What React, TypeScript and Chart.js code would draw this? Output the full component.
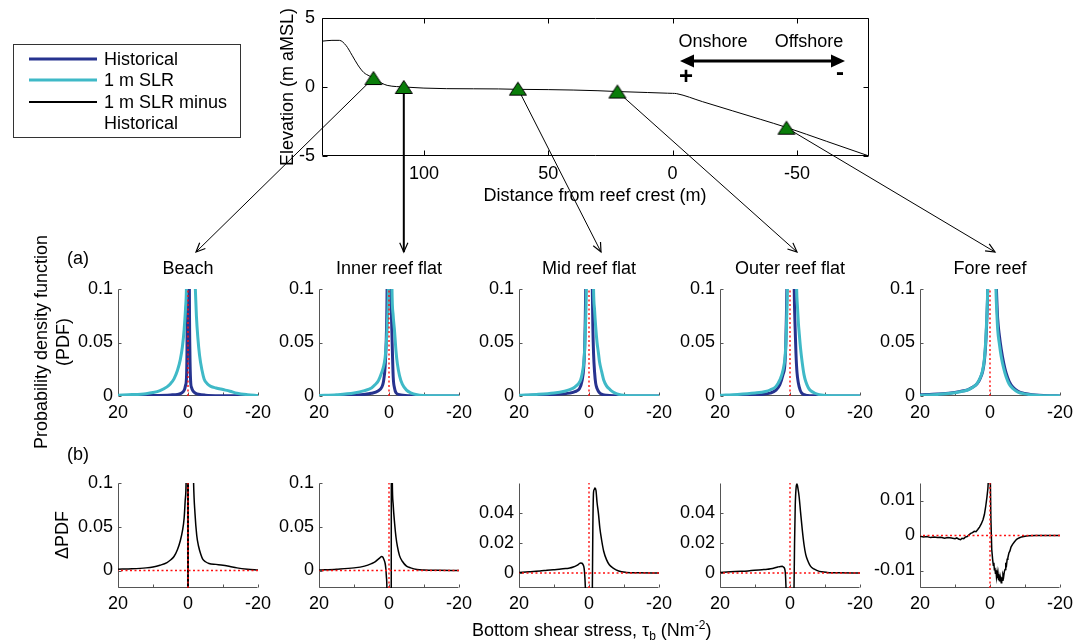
import React, { useEffect, useRef } from 'react';
import { Chart, registerables } from 'chart.js';
Chart.register(...registerables);

const W = 1088;
const H = 642;
const FONT = "'Liberation Sans', Arial, Helvetica, sans-serif";
const BLUE = '#26338f';
const CYAN = '#3fb9c7';
const RED = '#ff1010';
const AXIS = '#555555';
const GREEN = '#0a7d0a';

// ---------- Reef profile (top) ----------
const profileDist = [141, 137, 134, 131.3, 128.9, 126.6, 124.2, 121.9, 119.5, 117.2, 114.8, 111, 108, 100, 91, 80, 70, 62, 50, 40, 30, 22, 10, 2, 0, -1.6, -12, -24, -35.5, -45.8, -62, -79];
const profileElev = [3.32, 3.38, 3.38, 3.0, 2.3, 1.6, 1.05, 0.8, 0.6, 0.3, 0.12, 0.03, 0.0, -0.08, -0.12, -0.13, -0.14, -0.17, -0.19, -0.22, -0.27, -0.33, -0.4, -0.45, -0.46, -0.48, -1.06, -1.72, -2.35, -2.93, -3.94, -5.0];
const siteDist = [120.3, 108.1, 62.2, 22.2, -45.8];
const siteElev = [0.65, 0.0, -0.12, -0.33, -2.95];
const profileXTicks = [100, 50, 0, -50];
const profileYTicks = [-5, 0, 5];

// ---------- PDF panels (a) ----------
const panelTitles = ['Beach', 'Inner reef flat', 'Mid reef flat', 'Outer reef flat', 'Fore reef'];
const pdfXLabels = [20, 0, -20];
const pdfXMarks = [20, 10, 0, -10, -20];
const pdfYTicks = [0, 0.05, 0.1];

const beachSlrX = [20, 16, 12, 10, 8, 6, 5, 4, 3, 2.2, 1.6, 1.1, 0.7, 0.45, 0.2, -0.5, -1.5, -1.9, -2.1, -2.4, -2.8, -3.3, -4.0, -4.6, -5.5, -6.5, -8, -10, -12, -14, -17, -20];
const beachSlrY = [0.0008, 0.0013, 0.0022, 0.0032, 0.005, 0.0085, 0.0115, 0.016, 0.024, 0.034, 0.046, 0.062, 0.082, 0.1, 0.16, 0.3, 0.16, 0.115, 0.1, 0.075, 0.055, 0.038, 0.024, 0.016, 0.0115, 0.009, 0.0075, 0.006, 0.0045, 0.0026, 0.0012, 0.0004];
const beachHistX = [20, 10, 5, 3, 2, 1.4, 1.0, 0.7, 0.45, 0.3, 0.2, 0, -0.2, -0.4, -0.55, -0.75, -1.0, -1.6, -2.2, -3, -5, -10, -20];
const beachHistY = [0.0002, 0.0005, 0.001, 0.0015, 0.0025, 0.004, 0.006, 0.01, 0.016, 0.04, 0.1, 0.5, 0.4, 0.1, 0.04, 0.014, 0.008, 0.004, 0.0025, 0.0016, 0.0008, 0.0003, 0.0001];

const innerSlrX = [20, 15, 10, 7, 5, 4, 3, 2.2, 1.6, 1.1, 0.75, 0.5, 0.2, -0.3, -0.85, -1.2, -1.6, -2.0, -2.4, -3.0, -3.8, -5, -6.2, -8, -10, -14, -20];
const innerSlrY = [0.0005, 0.0012, 0.0028, 0.005, 0.0075, 0.0105, 0.0145, 0.021, 0.027, 0.036, 0.05, 0.066, 0.1, 0.3, 0.1, 0.075, 0.06, 0.042, 0.03, 0.019, 0.011, 0.0055, 0.003, 0.0012, 0.0005, 0.0002, 0.0001];
const innerHistX = [20, 10, 5, 3, 2.1, 1.6, 1.1, 0.76, 0.55, 0.3, 0, -0.3, -0.5, -0.7, -0.9, -1.2, -1.6, -2.0, -3.0, -4.0, -6, -10, -20];
const innerHistY = [0.0002, 0.0008, 0.0025, 0.005, 0.008, 0.013, 0.028, 0.056, 0.1, 0.3, 0.5, 0.3, 0.1, 0.075, 0.05, 0.018, 0.007, 0.003, 0.0012, 0.0006, 0.0003, 0.0001, 0];

const midSlrX = [20, 15, 10, 7, 5.5, 4, 3, 2.4, 2, 1.5, 1.2, 0.95, 0.76, 0.3, -0.6, -1.3, -1.6, -1.9, -2.3, -2.7, -3.0, -3.6, -4.2, -5, -6, -7, -8, -10.6, -14, -20];
const midSlrY = [0.0008, 0.0015, 0.0028, 0.0045, 0.006, 0.0085, 0.0115, 0.015, 0.02, 0.031, 0.046, 0.071, 0.1, 0.3, 0.3, 0.1, 0.08, 0.065, 0.05, 0.04, 0.032, 0.023, 0.015, 0.0095, 0.006, 0.0035, 0.002, 0.0005, 0.0002, 0.0001];
const midHistX = [20, 10, 5.5, 4, 2.7, 2, 1.5, 1.2, 0.95, 0.5, -0.5, -0.95, -1.1, -1.3, -1.6, -1.9, -2.3, -3, -4, -5, -7, -10, -20];
const midHistY = [0.0005, 0.0015, 0.0027, 0.004, 0.007, 0.014, 0.027, 0.05, 0.1, 0.3, 0.3, 0.1, 0.065, 0.04, 0.022, 0.012, 0.007, 0.003, 0.0012, 0.0006, 0.0002, 0.0001, 0];

const outerSlrX = [20, 15, 10, 7, 5.7, 4, 2.9, 2, 1.4, 1.1, 0.95, 0.76, 0.3, -1.0, -1.9, -2.1, -2.4, -2.6, -3, -3.5, -4, -4.5, -5.2, -5.9, -7, -7.8, -9, -10.5, -14, -20];
const outerSlrY = [0.0008, 0.0015, 0.0028, 0.0042, 0.0056, 0.009, 0.015, 0.024, 0.037, 0.055, 0.072, 0.1, 0.3, 0.3, 0.1, 0.085, 0.068, 0.06, 0.045, 0.031, 0.02, 0.0135, 0.008, 0.005, 0.0028, 0.0018, 0.0009, 0.0005, 0.0002, 0.0001];
const outerHistX = [20, 10, 5.7, 4, 2.9, 2, 1.5, 1.2, 1.0, 0.9, 0.3, -0.6, -1.2, -1.45, -1.7, -2, -2.4, -2.9, -3.3, -4, -5, -7, -10, -20];
const outerHistY = [0.0004, 0.001, 0.0027, 0.0055, 0.0106, 0.02, 0.028, 0.048, 0.08, 0.1, 0.3, 0.3, 0.1, 0.065, 0.04, 0.022, 0.012, 0.0055, 0.003, 0.0012, 0.0005, 0.0002, 0.0001, 0];

const foreX = [20, 15, 11.2, 8.5, 6.4, 5, 3.6, 2.8, 2.1, 1.6, 1.15, 0.9, 0.67, 0.3, -0.6, -1.2, -1.7, -1.95, -2.2, -2.7, -3.2, -3.9, -4.6, -5.5, -6.5, -8, -9.9, -12, -14, -17, -20];
const foreSlrY = [0.0008, 0.0015, 0.0025, 0.004, 0.0056, 0.008, 0.012, 0.017, 0.024, 0.035, 0.056, 0.075, 0.1, 0.2, 0.3, 0.2, 0.1, 0.078, 0.062, 0.048, 0.037, 0.026, 0.018, 0.011, 0.007, 0.0037, 0.002, 0.001, 0.0005, 0.0002, 0.0001];
const foreHistY = [0.0011, 0.0018, 0.0028, 0.0043, 0.0058, 0.0081, 0.0118, 0.0165, 0.023, 0.033, 0.053, 0.072, 0.097, 0.19, 0.3, 0.2, 0.115, 0.09, 0.072, 0.056, 0.044, 0.031, 0.0215, 0.0135, 0.0085, 0.0045, 0.0024, 0.0012, 0.0006, 0.0002, 0.0001];

// ---------- ΔPDF panels (b) ----------
const dBeachX = [20, 16, 12, 10, 8, 6, 5, 4, 3, 2.2, 1.6, 1.1, 0.8, 0.55, 0.3, 0.1, 0.03, -0.03, -0.1, -0.4, -1.0, -1.6, -2.0, -2.5, -3.0, -3.7, -4.2, -5, -6, -8, -10, -12, -14, -17, -20];
const dBeachY = [0.0015, 0.002, 0.003, 0.004, 0.006, 0.009, 0.012, 0.016, 0.024, 0.034, 0.045, 0.06, 0.08, 0.1, 0.2, 0.3, -0.5, -0.5, 0.3, 0.3, 0.25, 0.1, 0.065, 0.04, 0.028, 0.018, 0.013, 0.01, 0.008, 0.007, 0.006, 0.0045, 0.003, 0.0015, 0.0005];
const dInnerX = [20, 15, 10, 7, 5, 4, 3.3, 2.6, 2.1, 1.8, 1.6, 1.3, 1.1, 0.9, 0.76, 0.6, 0.4, 0, -0.6, -0.7, -0.85, -0.95, -1.2, -1.6, -2.0, -2.4, -3.0, -3.8, -5, -6.2, -8, -10, -14, -20];
const dInnerY = [0.0005, 0.0015, 0.003, 0.005, 0.0078, 0.0098, 0.0122, 0.0145, 0.016, 0.0155, 0.014, 0.011, 0.008, 0.002, -0.0064, -0.02, -0.1, -0.4, -0.3, 0.3, 0.15, 0.1, 0.075, 0.054, 0.038, 0.0275, 0.017, 0.0106, 0.005, 0.003, 0.0012, 0.0006, 0.0002, 0];
const dMidX = [20, 17, 14, 12, 10.2, 8, 6.5, 5.5, 4.5, 3.6, 3, 2.4, 2.0, 1.7, 1.4, 1.2, 1.0, 0.5, 0, -0.5, -0.95, -1.1, -1.3, -1.5, -1.7, -2.0, -2.3, -2.7, -3.1, -3.6, -4.2, -5, -5.8, -6.9, -8.5, -10.7, -14, -20];
const dMidY = [0.0004, 0.0008, 0.0013, 0.0018, 0.0022, 0.0026, 0.003, 0.0033, 0.004, 0.0049, 0.0058, 0.0067, 0.0065, 0.0056, 0.0033, -0.002, -0.012, -0.05, -0.08, -0.05, -0.012, 0.03, 0.054, 0.0556, 0.0567, 0.055, 0.047, 0.0396, 0.03, 0.022, 0.0145, 0.0089, 0.0055, 0.0033, 0.0013, 0.0004, 0.0001, 0];
const dOuterX = [20, 17, 14, 12, 10.2, 8, 6.5, 5.5, 4.5, 3.5, 2.7, 2.2, 1.9, 1.5, 1.3, 1.1, 0.5, 0, -0.5, -1.14, -1.3, -1.5, -1.75, -2.0, -2.3, -2.6, -3.0, -3.5, -4.0, -4.5, -5.2, -5.9, -6.8, -7.8, -9, -10.6, -14, -20];
const dOuterY = [0.0004, 0.0008, 0.0011, 0.0014, 0.0018, 0.0022, 0.0025, 0.0029, 0.0034, 0.004, 0.0044, 0.0045, 0.004, 0.0027, -0.001, -0.012, -0.05, -0.08, -0.05, -0.012, 0.02, 0.045, 0.057, 0.0593, 0.056, 0.051, 0.041, 0.029, 0.019, 0.0122, 0.0075, 0.0044, 0.0027, 0.0016, 0.0008, 0.0004, 0.0001, 0];
const dForeX = [20, 19, 18, 17, 16, 15, 14, 13, 12, 11, 10, 9.5, 9, 8.4, 8, 7.5, 7, 6.5, 6, 5.5, 5, 4.5, 4, 3.5, 3, 2.5, 2, 1.6, 1.2, 0.87, 0.6, 0.4, 0.1, -0.25, -0.5, -0.75, -0.95, -1.1, -1.25, -1.4, -1.55, -1.7, -1.85, -2.0, -2.15, -2.3, -2.45, -2.6, -2.75, -2.9, -3.05, -3.2, -3.35, -3.5, -3.7, -3.9, -4.1, -4.3, -4.5, -4.7, -4.9, -5.1, -5.4, -5.7, -6.0, -6.4, -7, -7.6, -8.3, -9, -10, -11, -13, -16, -20];
const dForeY = [-0.0002, -0.0004, -0.0003, -0.0006, -0.0004, -0.0006, -0.0005, -0.0008, -0.0006, -0.0007, -0.0009, -0.0007, -0.001, -0.0012, -0.0008, -0.0009, -0.0004, -0.0003, 0.0002, 0.0006, 0.0008, 0.0012, 0.0011, 0.0017, 0.0024, 0.0033, 0.0045, 0.006, 0.0085, 0.011, 0.0135, 0.017, 0.03, 0.005, -0.004, -0.0068, -0.0085, -0.0078, -0.0098, -0.0092, -0.0108, -0.0099, -0.0118, -0.0106, -0.0122, -0.011, -0.0128, -0.0114, -0.0131, -0.0117, -0.0125, -0.0135, -0.0119, -0.0128, -0.0112, -0.0118, -0.0103, -0.0097, -0.0083, -0.0086, -0.0068, -0.0064, -0.005, -0.0044, -0.0033, -0.0026, -0.0018, -0.0011, -0.0007, -0.0004, -0.0002, -0.0001, 0, 0, 0];
const dYTicksLarge = [0, 0.05, 0.1];
const dYTicksMid = [0, 0.02, 0.04];
const dYTicksFore = [-0.01, 0, 0.01];

// reference (zero) lines
const zeroLineX = [-20, 20];
const zeroLineY = [0, 0];

// ---------- layout constants ----------
const Y_W = 60;
const X_H = 34;
const PANEL_W = 140;
const panelLeft = [118, 319, 519, 720, 920];
const rowA = { top: 289, bottom: 396 };
const rowB = { top: 483, bottom: 588 };
const arrowEnds = [[196, 252], [0, 252], [601, 252], [797, 252], [995, 252]];

const pts = (xs: number[], ys: number[]) => xs.map((x, i) => ({ x, y: ys[i] }));
const fmt = (v: number) => String(Math.round(v * 10000) / 10000);

const framePlugin = {
  id: 'frame',
  beforeDatasetsDraw(chart: any, _a: any, o: any) {
    const { ctx, chartArea: a, scales } = chart;
    const l = Math.round(a.left) + 0.5;
    const r = Math.round(a.right) - 0.5;
    const t = Math.round(a.top) + 0.5;
    const b = Math.round(a.bottom) - 0.5;
    ctx.save();
    ctx.strokeStyle = o.color;
    ctx.lineWidth = 1;
    ctx.beginPath();
    ctx.moveTo(l, t); ctx.lineTo(l, b); ctx.lineTo(r, b);
    if (o.box) { ctx.lineTo(r, t); ctx.lineTo(l, t); }
    for (const v of o.xTicks) {
      const p = Math.round(scales.x.getPixelForValue(v)) + 0.5;
      ctx.moveTo(p, b); ctx.lineTo(p, b - o.len);
      if (o.box) { ctx.moveTo(p, t); ctx.lineTo(p, t + o.len); }
    }
    for (const v of o.yTicks) {
      const p = Math.round(scales.y.getPixelForValue(v)) + 0.5;
      ctx.moveTo(l, p); ctx.lineTo(l + o.len, p);
      if (o.box) { ctx.moveTo(r, p); ctx.lineTo(r - o.len, p); }
    }
    ctx.stroke();
    ctx.restore();
  },
  afterDraw(chart: any, _a: any, o: any) {
    if (!o.title) return;
    const { ctx, chartArea: a } = chart;
    ctx.save();
    ctx.fillStyle = '#000';
    ctx.font = `18px ${FONT}`;
    ctx.textAlign = 'center';
    ctx.textBaseline = 'alphabetic';
    ctx.fillText(o.title, (a.left + a.right) / 2, a.top - 15);
    ctx.restore();
  },
};

function xScale(min: number, max: number, labels: number[], pad: number) {
  return {
    type: 'linear', reverse: true, min, max,
    afterFit: (s: any) => { s.height = X_H; },
    afterBuildTicks: (s: any) => { s.ticks = labels.map((value) => ({ value })); },
    grid: { display: false, drawTicks: false },
    border: { display: false },
    ticks: { color: '#000', font: { family: FONT, size: 18 }, padding: pad, maxRotation: 0, minRotation: 0, autoSkip: false, callback: (v: number) => fmt(v) },
  };
}
function yScale(min: number, max: number, labels: number[], pad: number) {
  return {
    type: 'linear', min, max,
    afterFit: (s: any) => { s.width = Y_W; },
    afterBuildTicks: (s: any) => { s.ticks = labels.map((value) => ({ value })); },
    grid: { display: false, drawTicks: false },
    border: { display: false },
    ticks: { color: '#000', font: { family: FONT, size: 18 }, padding: pad, autoSkip: false, callback: (v: number) => fmt(v) },
  };
}

const curve = (data: any[], color: string, width: number, jagged = false) => ({
  data, borderColor: color, borderWidth: width, pointRadius: 0, fill: false,
  ...(jagged ? { tension: 0 } : { cubicInterpolationMode: 'monotone' }),
});
const refLine = (xs: number[], ys: number[]) => ({
  data: pts(xs, ys), borderColor: RED, borderWidth: 1.4, borderDash: [2, 2.5], pointRadius: 0, fill: false, tension: 0,
});

function panelConfig(left: number, row: { top: number; bottom: number }, yMin: number, yMax: number, yTicks: number[], datasets: any[], xPad: number, title?: string) {
  const right = left + PANEL_W;
  return {
    type: 'line',
    data: { datasets },
    options: {
      responsive: false, animation: false, devicePixelRatio: 1, events: [],
      layout: { padding: { left: left - Y_W, right: W - right, top: row.top, bottom: H - row.bottom - X_H } },
      plugins: {
        legend: { display: false }, tooltip: { enabled: false },
        frame: { xTicks: pdfXMarks, yTicks, len: 3, color: AXIS, box: false, title },
      },
      scales: { x: xScale(-20, 20, pdfXLabels, xPad), y: yScale(yMin, yMax, yTicks, 5) },
    },
    plugins: [framePlugin],
  };
}

function drawArrow(ctx: CanvasRenderingContext2D, x1: number, y1: number, x2: number, y2: number, lw: number) {
  ctx.lineWidth = lw;
  ctx.beginPath(); ctx.moveTo(x1, y1); ctx.lineTo(x2, y2); ctx.stroke();
  const ang = Math.atan2(y2 - y1, x2 - x1);
  const h = 10;
  ctx.lineWidth = 1.2;
  ctx.beginPath();
  ctx.moveTo(x2 - h * Math.cos(ang - 0.42), y2 - h * Math.sin(ang - 0.42));
  ctx.lineTo(x2, y2);
  ctx.lineTo(x2 - h * Math.cos(ang + 0.42), y2 - h * Math.sin(ang + 0.42));
  ctx.stroke();
}
function rotText(ctx: CanvasRenderingContext2D, text: string, x: number, y: number) {
  ctx.save(); ctx.translate(x, y); ctx.rotate(-Math.PI / 2);
  ctx.textAlign = 'center'; ctx.textBaseline = 'alphabetic';
  ctx.fillText(text, 0, 0); ctx.restore();
}

const overlayPlugin = {
  id: 'overlay',
  beforeDatasetsDraw(chart: any) {
    const ctx: CanvasRenderingContext2D = chart.ctx;
    const meta = chart.getDatasetMeta(0);
    ctx.save();
    ctx.strokeStyle = '#000';
    meta.data.forEach((pt: any, i: number) => {
      const [ex, ey] = arrowEnds[i];
      const x2 = i === 1 ? pt.x : ex;
      drawArrow(ctx, pt.x, pt.y, x2, ey, i === 1 ? 2 : 1);
    });
    ctx.restore();
  },
  afterDraw(chart: any) {
    const ctx: CanvasRenderingContext2D = chart.ctx;
    ctx.save();
    ctx.fillStyle = '#000';
    ctx.strokeStyle = '#000';
    ctx.font = `18px ${FONT}`;
    rotText(ctx, 'Elevation (m aMSL)', 293, 87);
    ctx.textAlign = 'center';
    ctx.textBaseline = 'alphabetic';
    ctx.fillText('Distance from reef crest (m)', 595, 201);
    ctx.fillText('Onshore', 713, 47);
    ctx.fillText('Offshore', 809, 47);
    ctx.lineWidth = 3;
    ctx.beginPath(); ctx.moveTo(690, 61); ctx.lineTo(834, 61); ctx.stroke();
    ctx.beginPath(); ctx.moveTo(680, 61); ctx.lineTo(694, 54.5); ctx.lineTo(694, 67.5); ctx.closePath(); ctx.fill();
    ctx.beginPath(); ctx.moveTo(845, 61); ctx.lineTo(831, 54.5); ctx.lineTo(831, 67.5); ctx.closePath(); ctx.fill();
    ctx.font = `bold 24px ${FONT}`;
    ctx.textBaseline = 'middle';
    ctx.fillText('+', 686, 77);
    ctx.fillText('-', 840, 73);
    ctx.font = `18px ${FONT}`;
    ctx.textAlign = 'left';
    ctx.textBaseline = 'alphabetic';
    ctx.fillText('(a)', 67, 264);
    ctx.fillText('(b)', 67, 460);
    rotText(ctx, 'Probability density function', 47, 342);
    rotText(ctx, '(PDF)', 69, 342);
    rotText(ctx, '\u0394PDF', 68, 535);
    let x = 472;
    const yb = 636;
    ctx.textAlign = 'left';
    const seg = (t: string, size: number, dy: number) => {
      ctx.font = `${size}px ${FONT}`;
      ctx.fillText(t, x, yb + dy);
      x += ctx.measureText(t).width;
    };
    seg('Bottom shear stress, \u03c4', 18, 0);
    seg('b', 12, 4);
    seg(' (Nm', 18, 0);
    seg('-2', 12, -7);
    seg(')', 18, 0);
    // legend
    ctx.lineWidth = 1;
    ctx.strokeStyle = '#333';
    ctx.strokeRect(13.5, 44.5, 227, 93);
    const rows: [string, string, number, number][] = [
      ['Historical', BLUE, 3, 59],
      ['1 m SLR', CYAN, 3, 80],
    ];
    ctx.font = `18px ${FONT}`;
    ctx.textBaseline = 'middle';
    rows.forEach(([t, c, w, y]) => {
      ctx.strokeStyle = c; ctx.lineWidth = w;
      ctx.beginPath(); ctx.moveTo(29, y); ctx.lineTo(97, y); ctx.stroke();
      ctx.fillText(t, 104, y + 1);
    });
    ctx.strokeStyle = '#000'; ctx.lineWidth = 2;
    ctx.beginPath(); ctx.moveTo(29, 102); ctx.lineTo(97, 102); ctx.stroke();
    ctx.fillText('1 m SLR minus', 104, 103);
    ctx.fillText('Historical', 104, 124);
    ctx.restore();
  },
};

function makeTriangle() {
  const c = document.createElement('canvas');
  c.width = 20; c.height = 16;
  const g = c.getContext('2d')!;
  g.fillStyle = GREEN; g.strokeStyle = '#000'; g.lineWidth = 1;
  g.beginPath(); g.moveTo(10, 1.5); g.lineTo(18.5, 14.5); g.lineTo(1.5, 14.5); g.closePath();
  g.fill(); g.stroke();
  return c;
}

function topConfig() {
  const L = 322, R = 869, T = 18, B = 156;
  return {
    type: 'line',
    data: {
      datasets: [
        { data: pts(siteDist, siteElev), showLine: false, pointStyle: makeTriangle(), pointRadius: 9, borderColor: '#000', backgroundColor: GREEN },
        { data: pts(profileDist, profileElev), borderColor: '#000', borderWidth: 1, pointRadius: 0, fill: false, cubicInterpolationMode: 'monotone' },
      ],
    },
    options: {
      responsive: false, animation: false, devicePixelRatio: 1, events: [],
      layout: { padding: { left: L - Y_W, right: W - R, top: T, bottom: H - B - X_H } },
      plugins: {
        legend: { display: false }, tooltip: { enabled: false },
        frame: { xTicks: profileXTicks, yTicks: profileYTicks, len: 5, color: '#000', box: true },
      },
      scales: { x: xScale(-79, 141, profileXTicks, 7), y: yScale(-5, 5, profileYTicks, 7) },
    },
    plugins: [framePlugin, overlayPlugin],
  };
}

const pdfSeries = [
  { slr: pts(beachSlrX, beachSlrY), hist: pts(beachHistX, beachHistY) },
  { slr: pts(innerSlrX, innerSlrY), hist: pts(innerHistX, innerHistY) },
  { slr: pts(midSlrX, midSlrY), hist: pts(midHistX, midHistY) },
  { slr: pts(outerSlrX, outerSlrY), hist: pts(outerHistX, outerHistY) },
  { slr: pts(foreX, foreSlrY), hist: pts(foreX, foreHistY) },
];
const dSeries = [
  { d: pts(dBeachX, dBeachY), min: -0.02, max: 0.1, ticks: dYTicksLarge, jagged: false },
  { d: pts(dInnerX, dInnerY), min: -0.02, max: 0.1, ticks: dYTicksLarge, jagged: false },
  { d: pts(dMidX, dMidY), min: -0.01, max: 0.06, ticks: dYTicksMid, jagged: false },
  { d: pts(dOuterX, dOuterY), min: -0.01, max: 0.06, ticks: dYTicksMid, jagged: false },
  { d: pts(dForeX, dForeY), min: -0.015, max: 0.015, ticks: dYTicksFore, jagged: true },
];

export default function App() {
  const topRef = useRef<HTMLCanvasElement | null>(null);
  const refs = useRef<(HTMLCanvasElement | null)[]>([]);
  useEffect(() => {
    Chart.defaults.font.family = FONT;
    const charts: Chart[] = [];
    charts.push(new Chart(topRef.current!, topConfig() as any));
    pdfSeries.forEach((s, i) => {
      const ds = [
        refLine([0, 0], [0, 0.1]),
        curve(s.slr, CYAN, 3),
        curve(s.hist, BLUE, 3),
      ];
      charts.push(new Chart(refs.current[i]!, panelConfig(panelLeft[i], rowA, 0, 0.1, pdfYTicks, ds, 6, panelTitles[i]) as any));
    });
    dSeries.forEach((s, i) => {
      const ds = [
        refLine([0, 0], [s.min, s.max]),
        refLine(zeroLineX, zeroLineY),
        curve(s.d, '#000', 1.5, s.jagged),
      ];
      charts.push(new Chart(refs.current[5 + i]!, panelConfig(panelLeft[i], rowB, s.min, s.max, s.ticks, ds, 5) as any));
    });
    return () => charts.forEach((c) => c.destroy());
  }, []);
  const cv = { position: 'absolute' as const, left: 0, top: 0 };
  return (
    <div style={{ position: 'fixed', left: 0, top: 0, width: W, height: H, background: '#fff', overflow: 'hidden' }}>
      <canvas ref={topRef} width={W} height={H} style={cv} />
      {Array.from({ length: 10 }).map((_, i) => (
        <canvas key={i} ref={(el) => { refs.current[i] = el; }} width={W} height={H} style={cv} />
      ))}
    </div>
  );
}
